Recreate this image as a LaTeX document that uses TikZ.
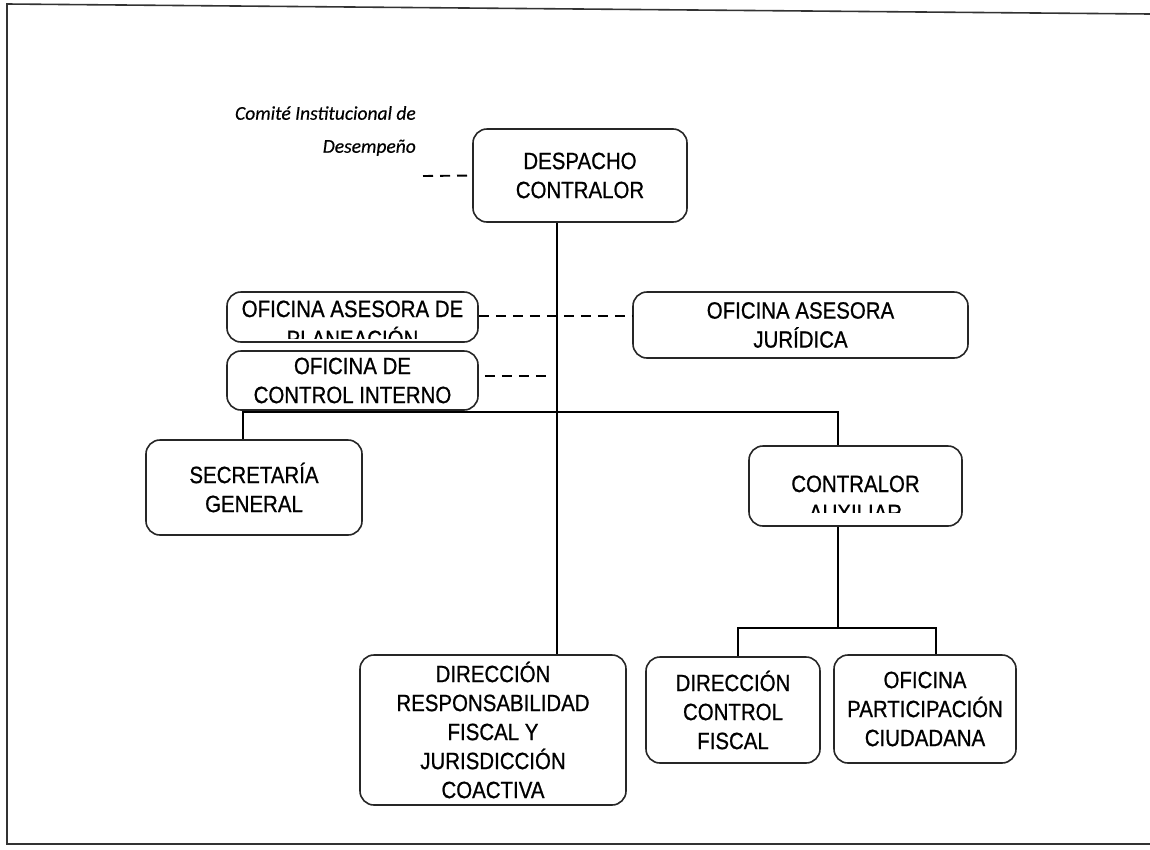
\documentclass[tikz,border=0pt]{standalone}
\usepackage{fontspec}
\setmainfont{Liberation Sans}[FakeStretch=0.87,FakeBold=0.8]
\newfontfamily\calib{Carlito}[FakeBold=0.4]
\begin{document}
\begin{tikzpicture}[x=1pt,y=-1pt,
  boxfont/.style={font=\fontsize{23.5}{29}\selectfont},
  box/.style={draw=black!85, rounded corners=14pt, line width=1.6pt, align=center,
    inner sep=0pt, boxfont},
  cliptext/.style={boxfont, anchor=base, inner sep=0pt},
  conn/.style={line width=1.3pt},
  dashline/.style={line width=1.9pt, dash pattern=on 10pt off 7pt},
  frame/.style={line width=1.6pt, draw=black!80}]
\useasboundingbox (0,0) rectangle (1150,849);
% page frame
\coordinate (f1) at (7,4);
\coordinate (f2) at (1150,14);
\coordinate (f3) at (7,844);
\coordinate (f4) at (1150,844);
\draw[frame] (f2) -- (f1) -- (f3) -- (f4);

% boxes
\node[box, minimum width=214pt, minimum height=93pt] (desp) at (580,175.5) {DESPACHO\\CONTRALOR};
\node[box, minimum width=251pt, minimum height=50pt] (plan) at (352.5,317) {};
\begin{scope}
  \clip (229,294) rectangle (476,338);
  \node[cliptext] (plan1) at (352.5,317) {OFICINA ASESORA DE};
  \node[cliptext] (plan2) at (352.5,347) {PLANEACIÓN};
\end{scope}
\node[box, minimum width=335pt, minimum height=66pt] (jur) at (800.5,325) {OFICINA ASESORA\\JURÍDICA};
\node[box, minimum width=251pt, minimum height=59pt] (ci) at (352.5,380.5) {OFICINA DE\\CONTROL INTERNO};
\node[box, minimum width=216pt, minimum height=95pt] (sec) at (254,487.5) {SECRETARÍA\\GENERAL};
\node[box, minimum width=213pt, minimum height=80pt] (aux) at (855.5,486) {};
\begin{scope}
  \clip (751,448) rectangle (960,512);
  \node[cliptext] (aux1) at (855.5,492) {CONTRALOR};
  \node[cliptext] (aux2) at (855.5,521) {AUXILIAR};
\end{scope}
\node[box, minimum width=266pt, minimum height=150pt] (drf) at (493,730)
  {DIRECCIÓN\\RESPONSABILIDAD\\FISCAL Y\\JURISDICCIÓN\\COACTIVA};
\node[box, minimum width=174pt, minimum height=106pt] (dcf) at (733,710) {DIRECCIÓN\\CONTROL\\FISCAL};
\node[box, minimum width=182pt, minimum height=108pt] (opc) at (925,709) {OFICINA\\PARTICIPACIÓN\\CIUDADANA};

% comité label
\node[font=\calib\itshape\fontsize{19.5}{33}\selectfont, align=right, anchor=north east, inner sep=0pt] (com) at (416,106)
  {Comité Institucional de\\Desempeño};

% connectors
\coordinate (comend) at (423,176);
\draw[dashline] (comend) -- (desp.west);
\coordinate (trunk) at (557,222);
\draw[conn] (desp.south -| trunk) -- (drf.north -| trunk);
\draw[dashline] ([yshift=1pt]plan.east) -- ([yshift=1pt]plan.east -| jur.west);
\coordinate (cie) at (552,376);
\draw[dashline] ([xshift=6pt]ci.east |- cie) -- (cie);
\coordinate (busL) at (243,412);
\coordinate (busR) at (838,412);
\draw[conn] (sec.north -| busL) -- (busL) -- (busR) -- (aux.north -| busR);
\coordinate (bus2) at (838,628);
\coordinate (b2L) at (738,628);
\coordinate (b2R) at (936,628);
\draw[conn] (aux.south -| bus2) -- (bus2);
\draw[conn] (dcf.north -| b2L) -- (b2L) -- (b2R) -- (opc.north -| b2R);
\end{tikzpicture}
\end{document}
